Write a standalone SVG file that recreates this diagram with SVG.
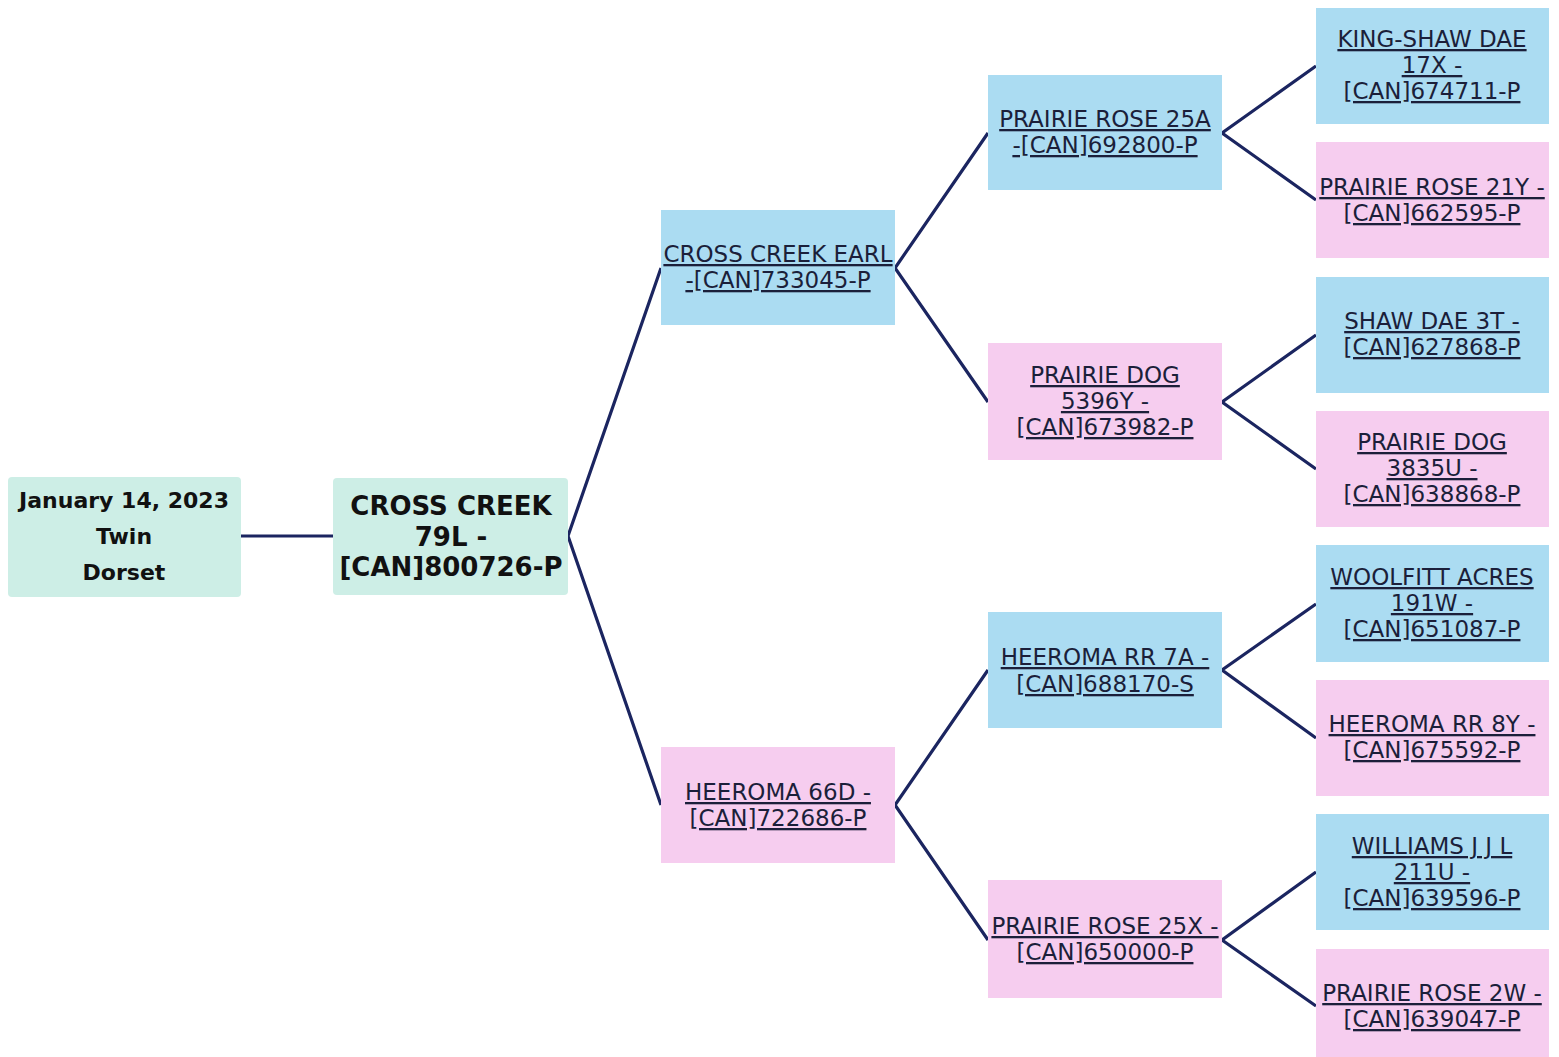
<svg xmlns="http://www.w3.org/2000/svg" width="1559" height="1057" viewBox="0 0 1559 1057">
<style>
.bg{fill:#ffffff}
.teal{fill:#cdeee6}
.blue{fill:#abdcf2}
.pink{fill:#f6cdef}
.t{font-family:"DejaVu Sans","Liberation Sans",sans-serif;font-size:23px;fill:#1b1f3a;text-anchor:middle;text-decoration:underline}
.b{font-family:"DejaVu Sans","Liberation Sans",sans-serif;font-weight:bold;fill:#111111;text-anchor:middle}
.c{stroke:#1b2560;stroke-width:3.2;fill:none}
</style>
<rect class="bg" x="0" y="0" width="1559" height="1057"/>
<g id="connectors">
<line class="c" x1="241" y1="536" x2="333" y2="536"/>
<polyline class="c" points="661,268 568,536 661,805"/>
<polyline class="c" points="988,133 895,268 988,402"/>
<polyline class="c" points="988,670 895,805 988,940"/>
<polyline class="c" points="1316,66 1222,133 1316,200"/>
<polyline class="c" points="1316,335 1222,402 1316,469"/>
<polyline class="c" points="1316,604 1222,670 1316,738"/>
<polyline class="c" points="1316,872 1222,940 1316,1006"/>
</g>
<g id="n-date">
<rect class="teal" x="8" y="477" width="233" height="120" rx="4"/>
<text class="b" font-size="22" x="124" y="508">January 14, 2023</text>
<text class="b" font-size="22" x="124" y="544">Twin</text>
<text class="b" font-size="22" x="124" y="580">Dorset</text>
</g>
<g id="n-root">
<rect class="teal" x="333" y="478" width="235" height="117" rx="4"/>
<text class="b" font-size="26" x="451" y="515">CROSS CREEK</text>
<text class="b" font-size="26" x="451" y="546">79L -</text>
<text class="b" font-size="26" x="451" y="576">[CAN]800726-P</text>
</g>
<g id="n-sire">
<rect class="blue" x="661" y="210" width="234" height="115"/>
<text class="t" x="778" y="262">CROSS CREEK EARL</text>
<text class="t" x="778" y="288">-[CAN]733045-P</text>
</g>
<g id="n-dam">
<rect class="pink" x="661" y="747" width="234" height="116"/>
<text class="t" x="778" y="800">HEEROMA 66D -</text>
<text class="t" x="778" y="826">[CAN]722686-P</text>
</g>
<g id="n-ss">
<rect class="blue" x="988" y="75" width="234" height="115"/>
<text class="t" x="1105" y="127">PRAIRIE ROSE 25A</text>
<text class="t" x="1105" y="153">-[CAN]692800-P</text>
</g>
<g id="n-sd">
<rect class="pink" x="988" y="343" width="234" height="117"/>
<text class="t" x="1105" y="383">PRAIRIE DOG</text>
<text class="t" x="1105" y="409">5396Y -</text>
<text class="t" x="1105" y="435">[CAN]673982-P</text>
</g>
<g id="n-ds">
<rect class="blue" x="988" y="612" width="234" height="116"/>
<text class="t" x="1105" y="665">HEEROMA RR 7A -</text>
<text class="t" x="1105" y="692">[CAN]688170-S</text>
</g>
<g id="n-dd">
<rect class="pink" x="988" y="880" width="234" height="118"/>
<text class="t" x="1105" y="934">PRAIRIE ROSE 25X -</text>
<text class="t" x="1105" y="960">[CAN]650000-P</text>
</g>
<g id="n-sss">
<rect class="blue" x="1316" y="8" width="233" height="116"/>
<text class="t" x="1432" y="47">KING-SHAW DAE</text>
<text class="t" x="1432" y="73">17X -</text>
<text class="t" x="1432" y="99">[CAN]674711-P</text>
</g>
<g id="n-ssd">
<rect class="pink" x="1316" y="142" width="233" height="116"/>
<text class="t" x="1432" y="195">PRAIRIE ROSE 21Y -</text>
<text class="t" x="1432" y="221">[CAN]662595-P</text>
</g>
<g id="n-sds">
<rect class="blue" x="1316" y="277" width="233" height="116"/>
<text class="t" x="1432" y="329">SHAW DAE 3T -</text>
<text class="t" x="1432" y="355">[CAN]627868-P</text>
</g>
<g id="n-sdd">
<rect class="pink" x="1316" y="411" width="233" height="116"/>
<text class="t" x="1432" y="450">PRAIRIE DOG</text>
<text class="t" x="1432" y="476">3835U -</text>
<text class="t" x="1432" y="502">[CAN]638868-P</text>
</g>
<g id="n-dss">
<rect class="blue" x="1316" y="545" width="233" height="117"/>
<text class="t" x="1432" y="585">WOOLFITT ACRES</text>
<text class="t" x="1432" y="611">191W -</text>
<text class="t" x="1432" y="637">[CAN]651087-P</text>
</g>
<g id="n-dsd">
<rect class="pink" x="1316" y="680" width="233" height="116"/>
<text class="t" x="1432" y="732">HEEROMA RR 8Y -</text>
<text class="t" x="1432" y="758">[CAN]675592-P</text>
</g>
<g id="n-dds">
<rect class="blue" x="1316" y="814" width="233" height="116"/>
<text class="t" x="1432" y="854">WILLIAMS J J L</text>
<text class="t" x="1432" y="880">211U -</text>
<text class="t" x="1432" y="906">[CAN]639596-P</text>
</g>
<g id="n-ddd">
<rect class="pink" x="1316" y="949" width="233" height="108"/>
<text class="t" x="1432" y="1001">PRAIRIE ROSE 2W -</text>
<text class="t" x="1432" y="1027">[CAN]639047-P</text>
</g>
</svg>
